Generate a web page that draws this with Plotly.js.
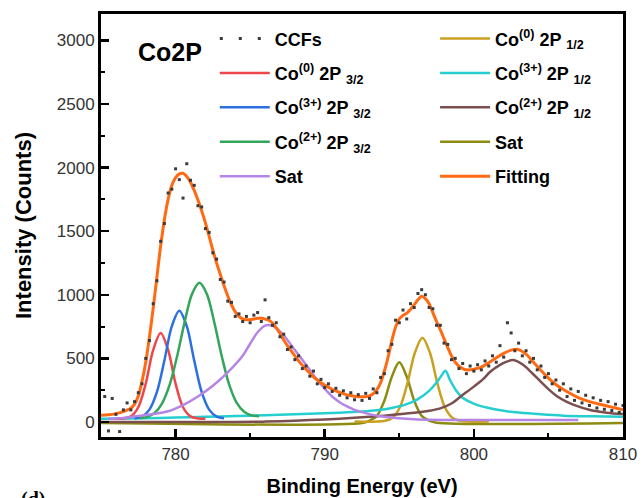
<!DOCTYPE html>
<html>
<head>
<meta charset="utf-8">
<script src="https://cdn.plot.ly/plotly-3.0.1.min.js"></script>
<style>html,body{margin:0;padding:0;background:#fff;}#chart{width:641px;height:498px;}</style>
</head>
<body>
<div id="chart"></div>
<script>
// ---- Data (Binding Energy in eV, Intensity in counts) ----
const ccfX = [775.25,775.5,775.75,776,776.25,776.5,776.75,777,777.25,777.5,777.75,778,778.25,778.5,778.75,779,779.25,779.5,779.75,780,780.25,780.5,780.75,781,781.25,781.5,781.75,782,782.25,782.5,782.75,783,783.25,783.5,783.75,784,784.25,784.5,784.75,785,785.25,785.5,785.75,786,786.25,786.5,786.75,787,787.25,787.5,787.75,788,788.25,788.5,788.75,789,789.25,789.5,789.75,790,790.25,790.5,790.75,791,791.25,791.5,791.75,792,792.25,792.5,792.75,793,793.25,793.5,793.75,794,794.25,794.5,794.75,795,795.25,795.5,795.75,796,796.25,796.5,796.75,797,797.25,797.5,797.75,798,798.25,798.5,798.75,799,799.25,799.5,799.75,800,800.25,800.5,800.75,801,801.25,801.5,801.75,802,802.25,802.5,802.75,803,803.25,803.5,803.75,804,804.25,804.5,804.75,805,805.25,805.5,805.75,806,806.25,806.5,806.75,807,807.25,807.5,807.75,808,808.25,808.5,808.75,809,809.25,809.5,809.75,810];
const ccfY = [200,-70,185,60,-75,95,150,95,160,230,300,500,640,930,1110,1420,1560,1800,1830,1990,1905,1760,2030,1900,1860,1700,1690,1520,1490,1330,1280,1120,1100,950,940,830,850,790,830,780,840,860,790,960,820,760,780,670,690,570,590,490,520,420,440,360,400,300,335,270,300,240,265,210,245,190,230,175,215,170,225,185,260,230,350,380,560,610,800,780,880,810,930,900,1010,1040,1000,900,890,760,760,620,610,490,500,420,460,380,440,400,450,410,480,440,520,470,600,510,780,700,560,620,520,560,470,500,410,440,350,380,300,330,250,300,200,260,170,240,150,210,130,190,110,170,100,160,90,140,75,130];

const fitX = [775,775.5,776,776.5,777,777.25,777.5,777.75,778,778.25,778.5,778.75,779,779.25,779.5,779.75,780,780.25,780.5,780.75,781,781.25,781.5,781.75,782,782.25,782.5,782.75,783,783.25,783.5,783.75,784,784.25,784.5,784.75,785,785.25,785.5,785.75,786,786.25,786.5,786.75,787,787.25,787.5,787.75,788,788.25,788.5,788.75,789,789.25,789.5,789.75,790,790.5,791,791.5,792,792.5,792.75,793,793.25,793.5,793.75,794,794.25,794.5,794.75,795,795.25,795.5,795.75,796,796.25,796.5,796.75,797,797.25,797.5,797.75,798,798.25,798.5,798.75,799,799.25,799.5,799.75,800,800.5,801,801.5,802,802.5,802.9,803,803.5,804,804.5,805,805.5,806,806.5,807,807.5,808,808.5,809,809.5,810];
const fitY = [52,56,66,82,108,140,205,320,470,670,895,1140,1385,1590,1750,1860,1920,1950,1955,1930,1885,1820,1745,1660,1565,1460,1350,1250,1160,1070,990,920,865,830,810,803,805,810,815,815,810,800,778,740,695,645,600,560,520,480,445,413,385,355,330,308,290,257,232,213,203,198,198,205,222,255,310,400,510,640,745,810,838,855,885,922,960,988,970,930,860,790,725,655,585,520,470,438,420,410,410,415,432,465,505,540,565,571,568,533,470,405,345,295,255,222,192,170,152,138,124,110,96];

const co0_32X = [776.0,776.5,777.0,777.5,778.0,778.5,779.0,779.5,780.0,780.5,781.0,781.5,782.0];
const co0_32Y = [25,28,44,116,302,566,700,566,302,116,44,28,25];

const co3_32X = [777.25,777.75,778.25,778.75,779.25,779.75,780.25,780.75,781.25,781.75,782.25,782.75,783.25];
const co3_32Y = [28,43,97,236,483,753,874,753,483,236,97,43,30];

const co2_32X = [777.6,778.1,778.6,779.1,779.6,780.1,780.6,781.1,781.6,782.1,782.6,783.1,783.6,784.1,784.6,785.1,785.6];
const co2_32Y = [29,40,72,147,291,515,781,1005,1094,1005,781,515,291,150,80,52,45];

const sat1X = [775.5,776.5,777.5,778.5,779.5,780.5,781.5,782.5,783.5,784.5,785.0,785.5,786.0,786.5,787.0,787.5,788.0,788.5,789.0,789.5,790.0,790.5,791.0,791.5,792.0,793.0,794.0,796.0,800.0,807.0];
const sat1Y = [25,32,48,62,84,133,200,285,390,520,615,705,758,755,712,645,565,490,410,330,262,200,155,122,95,62,42,22,15,15];

const co0_12X = [792.0,794.05,794.55,795.05,795.55,796.05,796.55,797.05,797.55,798.05,798.55,799.05,801.0];
const co0_12Y = [3,10,34,118,306,546,662,546,306,118,34,10,3];

const co3_12X = [775,777,779,781,783,785,787,789,791,792.5,793.5,794.5,795.5,796.25,797.0,797.5,797.8,798.1,798.4,798.8,799.2,799.7,800.2,801,802,803,804.5,806,808,810];
const co3_12Y = [25,28,32,38,44,50,57,65,73,82,92,110,140,180,245,310,360,403,330,250,195,160,135,110,88,74,60,50,45,42];

const co2_12X = [775,784,786,788,790,792,794,796,797,797.75,798.5,799.1,800,800.6,801.1,801.7,802.2,802.65,803.3,803.9,804.5,805.0,805.6,806.2,806.7,807.8,808.9,810];
const co2_12Y = [0,0,3,10,20,33,50,72,88,107,145,199,278,335,395,445,474,487,450,385,315,258,200,160,134,94,73,62];

const sat2X = [775,792.5,793,793.5,794,794.5,795,795.5,796,796.5,797,797.5,810];
const sat2Y = [-8,-8,10,48,167,356,469,356,167,48,10,-6,-8];

const xTicks = [780,790,800,810];
const yTicks = [0,500,1000,1500,2000,2500,3000];

// ---- Styling ----
const FONT = 'Liberation Sans, Arial, sans-serif';
const lw = 2.5;
function comp(x, y, name, color, legend, rank, group, width) {
  return {x: x, y: y, name: name, type: 'scatter', mode: 'lines',
    line: {color: color, width: width || lw, shape: 'spline', smoothing: 0.9},
    legend: legend, legendrank: rank, legendgroup: group, hoverinfo: 'skip'};
}

const traces = [
  comp(sat2X, sat2Y, 'Sat', '#8E8B12', 'legend2', 4, 'g9'),
  comp(co0_12X, co0_12Y, 'Co<sup>(0)</sup> 2P <sub>1/2</sub>', '#C9A020', 'legend2', 1, 'g6'),
  comp(co3_12X, co3_12Y, 'Co<sup>(3+)</sup> 2P <sub>1/2</sub>', '#26CFCF', 'legend2', 2, 'g7'),
  comp(co2_12X, co2_12Y, 'Co<sup>(2+)</sup> 2P <sub>1/2</sub>', '#7B4F4F', 'legend2', 3, 'g8'),
  comp(co0_32X, co0_32Y, 'Co<sup>(0)</sup> 2P <sub>3/2</sub>', '#F0464B', 'legend', 2, 'g2'),
  comp(co3_32X, co3_32Y, 'Co<sup>(3+)</sup> 2P <sub>3/2</sub>', '#2B6FE0', 'legend', 3, 'g3'),
  comp(co2_32X, co2_32Y, 'Co<sup>(2+)</sup> 2P <sub>3/2</sub>', '#33A65C', 'legend', 4, 'g4'),
  comp(sat1X, sat1Y, 'Sat', '#B585E6', 'legend', 5, 'g5'),
  comp(fitX, fitY, 'Fitting', '#FF6A13', 'legend2', 5, 'g10', 3),
  {x: ccfX, y: ccfY, name: 'CCFs', type: 'scatter', mode: 'markers',
   marker: {color: '#3A3A3A', size: 3, symbol: 'square'}, showlegend: false, hoverinfo: 'skip'},
  {x: [null], y: [null], name: 'CCFs', type: 'scatter', mode: 'lines',
   line: {color: '#3A3A3A', width: 3, dash: '3px,16px'}, legend: 'legend', legendrank: 1, legendgroup: 'g1'}
];

const legFont = {family: FONT, size: 18, color: '#000', weight: 'bold'};
const layout = {
  width: 641, height: 498,
  margin: {l: 101, r: 18, t: 14, b: 61},
  paper_bgcolor: '#fff', plot_bgcolor: '#fff',
  font: {family: FONT, color: '#000'},
  xaxis: {
    range: [775, 810], tickvals: xTicks, ticks: 'inside', ticklen: 8, tickwidth: 2.5, tickcolor: '#000',
    minor: {ticks: 'inside', ticklen: 4, tickwidth: 2, dtick: 5, tickcolor: '#000'},
    showline: true, linewidth: 3, linecolor: '#000', mirror: true, showgrid: false, zeroline: false,
    tickfont: {family: FONT, size: 17, color: '#333'},
    title: {text: 'Binding Energy (eV)', font: {family: FONT, size: 20, color: '#000', weight: 'bold'}, standoff: 16}
  },
  yaxis: {
    range: [-118, 3207], tickvals: yTicks, ticks: 'inside', ticklen: 8, tickwidth: 2.5, tickcolor: '#000',
    minor: {ticks: 'inside', ticklen: 4, tickwidth: 2, dtick: 250, tickcolor: '#000'},
    showline: true, linewidth: 3, linecolor: '#000', mirror: true, showgrid: false, zeroline: false,
    tickfont: {family: FONT, size: 17, color: '#333'},
    title: {text: 'Intensity (Counts)', font: {family: FONT, size: 22, color: '#000', weight: 'bold'}, standoff: 20}
  },
  legend: {x: 0.218, y: 0.985, xanchor: 'left', yanchor: 'top', bgcolor: 'rgba(0,0,0,0)',
           font: legFont, itemwidth: 50, traceorder: 'grouped', tracegroupgap: 8},
  legend2: {x: 0.640, y: 0.985, xanchor: 'left', yanchor: 'top', bgcolor: 'rgba(0,0,0,0)',
            font: legFont, itemwidth: 50, traceorder: 'grouped', tracegroupgap: 8},
  annotations: [
    {text: 'Co2P', xref: 'paper', yref: 'paper', x: 0.067, y: 0.910, xanchor: 'left', yanchor: 'middle',
     showarrow: false, font: {family: FONT, size: 25, color: '#000', weight: 'bold'}},
    {text: '(d)', xref: 'paper', yref: 'paper', x: -0.130, y: -0.115, xanchor: 'center', yanchor: 'top',
     showarrow: false, font: {family: 'Liberation Serif, Times New Roman, serif', size: 20, color: '#000', weight: 'bold'}}
  ],
  showlegend: true
};

Plotly.newPlot('chart', traces, layout, {displayModeBar: false, staticPlot: true});
</script>
</body>
</html>
